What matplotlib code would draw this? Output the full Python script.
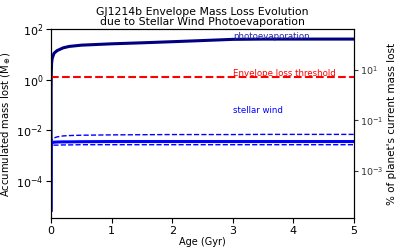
import numpy as np
import matplotlib
matplotlib.use("Agg")
import matplotlib.pyplot as plt

# Data
age = [0.0, 0.002, 0.005, 0.01, 0.02, 0.05, 0.1, 0.2, 0.3, 0.5, 1.0, 1.5, 2.0, 2.5, 3.0, 3.5, 4.0, 4.5, 5.0]
photoevap = [7e-6, 0.5, 2.0, 4.5, 7.0, 11.0, 14.0, 18.0, 20.5, 23.0, 26.0, 28.5, 31.5, 35.0, 39.0, 40.0, 40.0, 40.0, 40.0]
wind_mid = [7e-6, 1.5e-3, 2.6e-3, 3.1e-3, 3.3e-3, 3.4e-3, 3.45e-3, 3.5e-3, 3.5e-3, 3.55e-3, 3.6e-3, 3.6e-3, 3.6e-3, 3.6e-3, 3.6e-3, 3.6e-3, 3.6e-3, 3.6e-3, 3.6e-3]
wind_high = [7e-6, 2.0e-3, 3.2e-3, 3.8e-3, 4.3e-3, 5.0e-3, 5.5e-3, 6.0e-3, 6.2e-3, 6.4e-3, 6.6e-3, 6.7e-3, 6.8e-3, 6.8e-3, 6.8e-3, 6.9e-3, 6.9e-3, 6.9e-3, 6.9e-3]
wind_low = [7e-6, 1.2e-3, 2.1e-3, 2.4e-3, 2.5e-3, 2.6e-3, 2.6e-3, 2.65e-3, 2.65e-3, 2.7e-3, 2.7e-3, 2.7e-3, 2.7e-3, 2.7e-3, 2.7e-3, 2.7e-3, 2.7e-3, 2.7e-3, 2.7e-3]
threshold = 1.3
percent_factor = 4.0
ylim_left = (3.45e-6, 100)
left_ticks = [1e2, 1e0, 1e-2, 1e-4]
right_ticks = [1e1, 1e-1, 1e-3]

fig = plt.figure(figsize=(3.99, 2.52), dpi=100)
ax = fig.add_axes([51/399, 1 - 218/252, (354-51)/399, (218-29)/252])

ax.plot(age, photoevap, color="navy", lw=2.2)
ax.plot(age, wind_mid, color="blue", lw=2.2)
ax.plot(age, wind_high, color="blue", lw=1.0, ls="--")
ax.plot(age, wind_low, color="blue", lw=1.0, ls="--")
ax.axhline(threshold, color="red", lw=1.5, ls="--")

ax.set_yscale("log")
ax.set_xlim(0, 5)
ax.set_ylim(*ylim_left)
ax.set_yticks(left_ticks)
ax.minorticks_off()
ax.set_xlabel("Age (Gyr)", fontsize=7, labelpad=1)
ax.set_ylabel(r"Accumulated mass lost (M$_\oplus$)", fontsize=7.2, labelpad=2)
ax.tick_params(labelsize=8, pad=2)
ax.set_title("GJ1214b Envelope Mass Loss Evolution\ndue to Stellar Wind Photoevaporation", fontsize=7.8, pad=3, linespacing=1.0)

ax.text(3.0, 49, "photoevaporation", color="#2222aa", fontsize=6.2, va="center")
ax.text(3.0, 1.75, "Envelope loss threshold", color="red", fontsize=6.2, va="center")
ax.text(3.0, 0.06, "stellar wind", color="blue", fontsize=6.2, va="center")

ax2 = ax.twinx()
ax2.set_yscale("log")
ax2.set_ylim(ylim_left[0] * percent_factor, ylim_left[1] * percent_factor)
ax2.set_yticks(right_ticks)
ax2.minorticks_off()
ax2.tick_params(labelsize=6.8, colors="#333333", pad=1, length=3)
ax2.set_ylabel("% of planet's current mass lost", fontsize=7.5, labelpad=3)

fig.savefig("out.png", dpi=100)
